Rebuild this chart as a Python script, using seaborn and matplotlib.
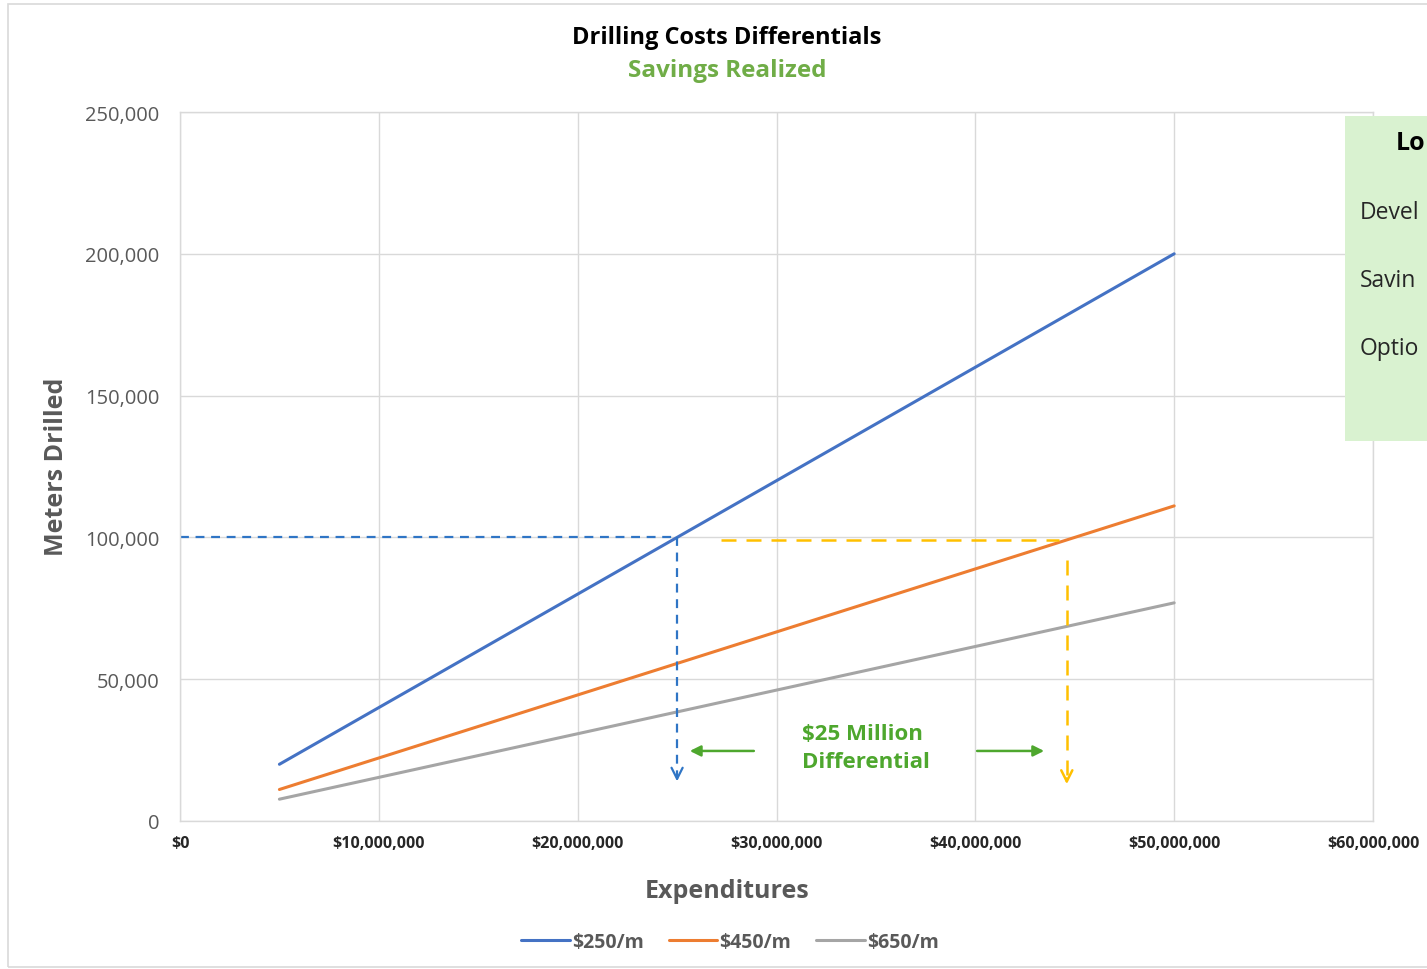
import pandas as pd
import numpy as np
import matplotlib.pyplot as plt
import seaborn as sns
from matplotlib.patches import Rectangle
from matplotlib.lines import Line2D
from matplotlib.ticker import FuncFormatter

# Data
expenditures = [5e6, 10e6, 15e6, 20e6, 25e6, 30e6, 35e6, 40e6, 45e6, 50e6]
meters_250 = [20000, 40000, 60000, 80000, 100000, 120000, 140000, 160000, 180000, 200000]
meters_450 = [11111, 22222, 33333, 44444, 55556, 66667, 77778, 88889, 100000, 111111]
meters_650 = [7692, 15385, 23077, 30769, 38462, 46154, 53846, 61538, 69231, 76923]
series_names = ['$250/m', '$450/m', '$650/m']
series_colors = ['#4472C4', '#ED7D31', '#A5A5A5']

# reference markers for the differential
target_meters = 100000
spend_250 = 25e6
spend_450 = 44.6e6
# side panel is cut off by the image edge; only these fragments are visible
side_box_lines = ['Lo', 'Devel', 'Savin', 'Optio']

df = pd.DataFrame({
    'Expenditures': expenditures * 3,
    'Meters': meters_250 + meters_450 + meters_650,
    'Rate': [series_names[0]] * 10 + [series_names[1]] * 10 + [series_names[2]] * 10,
})

sns.set_theme(style="whitegrid")
plt.rcParams['font.family'] = ['Open Sans', 'DejaVu Sans']
grey_txt = '#595959'
green = '#4EA72E'

fig = plt.figure(figsize=(14.27, 9.70), dpi=100)
fig.patch.set_facecolor('white')
ax = fig.add_axes([180 / 1427, 1 - 822 / 970, 1193 / 1427, 709 / 970])

sns.lineplot(data=df, x='Expenditures', y='Meters', hue='Rate',
             palette=dict(zip(series_names, series_colors)), linewidth=2.2,
             ax=ax, legend=False)

ax.set_xlim(0, 60e6)
ax.set_ylim(0, 250000)
ax.set_xticks(np.arange(0, 60e6 + 1, 10e6))
ax.set_yticks(np.arange(0, 250001, 50000))
ax.xaxis.set_major_formatter(FuncFormatter(lambda v, p: f'${v:,.0f}'))
ax.yaxis.set_major_formatter(FuncFormatter(lambda v, p: f'{v:,.0f}'))
ax.grid(True, color='#D9D9D9', linewidth=1)
for s in ax.spines.values():
    s.set_color('#D9D9D9')
    s.set_linewidth(1)
ax.tick_params(axis='both', length=0)
ax.tick_params(axis='y', pad=15, labelsize=14.5, labelcolor=grey_txt)
ax.tick_params(axis='x', pad=10, labelsize=11.5, labelcolor='#262626')
for lbl in ax.get_xticklabels():
    lbl.set_fontweight('bold')

ax.set_xlabel('Expenditures', fontsize=18, fontweight='bold', color=grey_txt)
ax.xaxis.set_label_coords((727 - 180) / 1193, -(892 - 822) / 709)
ax.xaxis.label.set_va('center')
ax.set_ylabel('Meters Drilled', fontsize=18, fontweight='bold', color=grey_txt)
ax.yaxis.set_label_coords(-(180 - 57) / 1193, (822 - 467) / 709)
ax.yaxis.label.set_va('center')

# dashed guide lines
blue_dash = '#2F75C5'
gold = '#FFC000'
ax.plot([0, spend_250], [target_meters, target_meters], color=blue_dash, lw=1.6,
        dashes=(4, 3))
ax.plot([spend_250, spend_250], [target_meters, 15000], color=blue_dash, lw=1.6,
        dashes=(4, 3))
ax.annotate('', xy=(spend_250, 13000), xytext=(spend_250, 17000),
            arrowprops=dict(arrowstyle='->', color=blue_dash, lw=1.6, mutation_scale=20))
ax.plot([27.2e6, 44.2e6], [99000, 99000], color=gold, lw=1.8, dashes=(6, 4))
ax.plot([spend_450, spend_450], [92000, 14000], color=gold, lw=1.8, dashes=(6, 4))
ax.annotate('', xy=(spend_450, 12000), xytext=(spend_450, 16000),
            arrowprops=dict(arrowstyle='->', color=gold, lw=1.8, mutation_scale=20))

# differential arrows and label
ax.annotate('', xy=(25.5e6, 24700), xytext=(29.0e6, 24700),
            arrowprops=dict(arrowstyle='-|>', color=green, lw=1.8, mutation_scale=16))
ax.annotate('', xy=(43.6e6, 24700), xytext=(39.95e6, 24700),
            arrowprops=dict(arrowstyle='-|>', color=green, lw=1.8, mutation_scale=16))
ax.text(31.3e6, 26000, '$25 Million\nDifferential', color=green, fontsize=16,
        fontweight='bold', ha='left', va='center', linespacing=1.45)

# titles
fig.text(727 / 1427, 1 - 38 / 970, 'Drilling Costs Differentials', ha='center', va='center',
         fontsize=17, fontweight='bold', color='black')
fig.text(727 / 1427, 1 - 71 / 970, 'Savings Realized', ha='center', va='center',
         fontsize=17.5, fontweight='bold', color='#70AD47')

# legend
handles = [Line2D([0], [0], color=c, lw=2.2) for c in series_colors]
leg = fig.legend(handles, series_names, loc='center', bbox_to_anchor=(730 / 1427, 1 - 943 / 970),
                 ncol=3, frameon=False, handlelength=2.5, handletextpad=0.1, columnspacing=1.3,
                 prop={'size': 14, 'weight': 'bold'})
for t in leg.get_texts():
    t.set_color(grey_txt)

# side text box (cut off at right edge)
fig.patches.append(Rectangle((1345 / 1427, 1 - 442 / 970), 0.2, 325 / 970,
                             transform=fig.transFigure, facecolor='#D9F2D0',
                             edgecolor='none', zorder=1))
fig.text(1396 / 1427, 1 - 143 / 970, side_box_lines[0], ha='left', va='center',
         fontsize=18, fontweight='bold', color='black')
for i, txt in enumerate(side_box_lines[1:]):
    fig.text(1360 / 1427, 1 - (213 + 68 * i) / 970, txt, ha='left', va='center',
             fontsize=16.5, color='#262626')

# outer chart border
fig.patches.append(Rectangle((8 / 1427, 2 / 970), 1.2, 963 / 970, transform=fig.transFigure,
                             facecolor='none', edgecolor='#D9D9D9', lw=1.2, zorder=0))

fig.savefig('out.png', dpi=100)
